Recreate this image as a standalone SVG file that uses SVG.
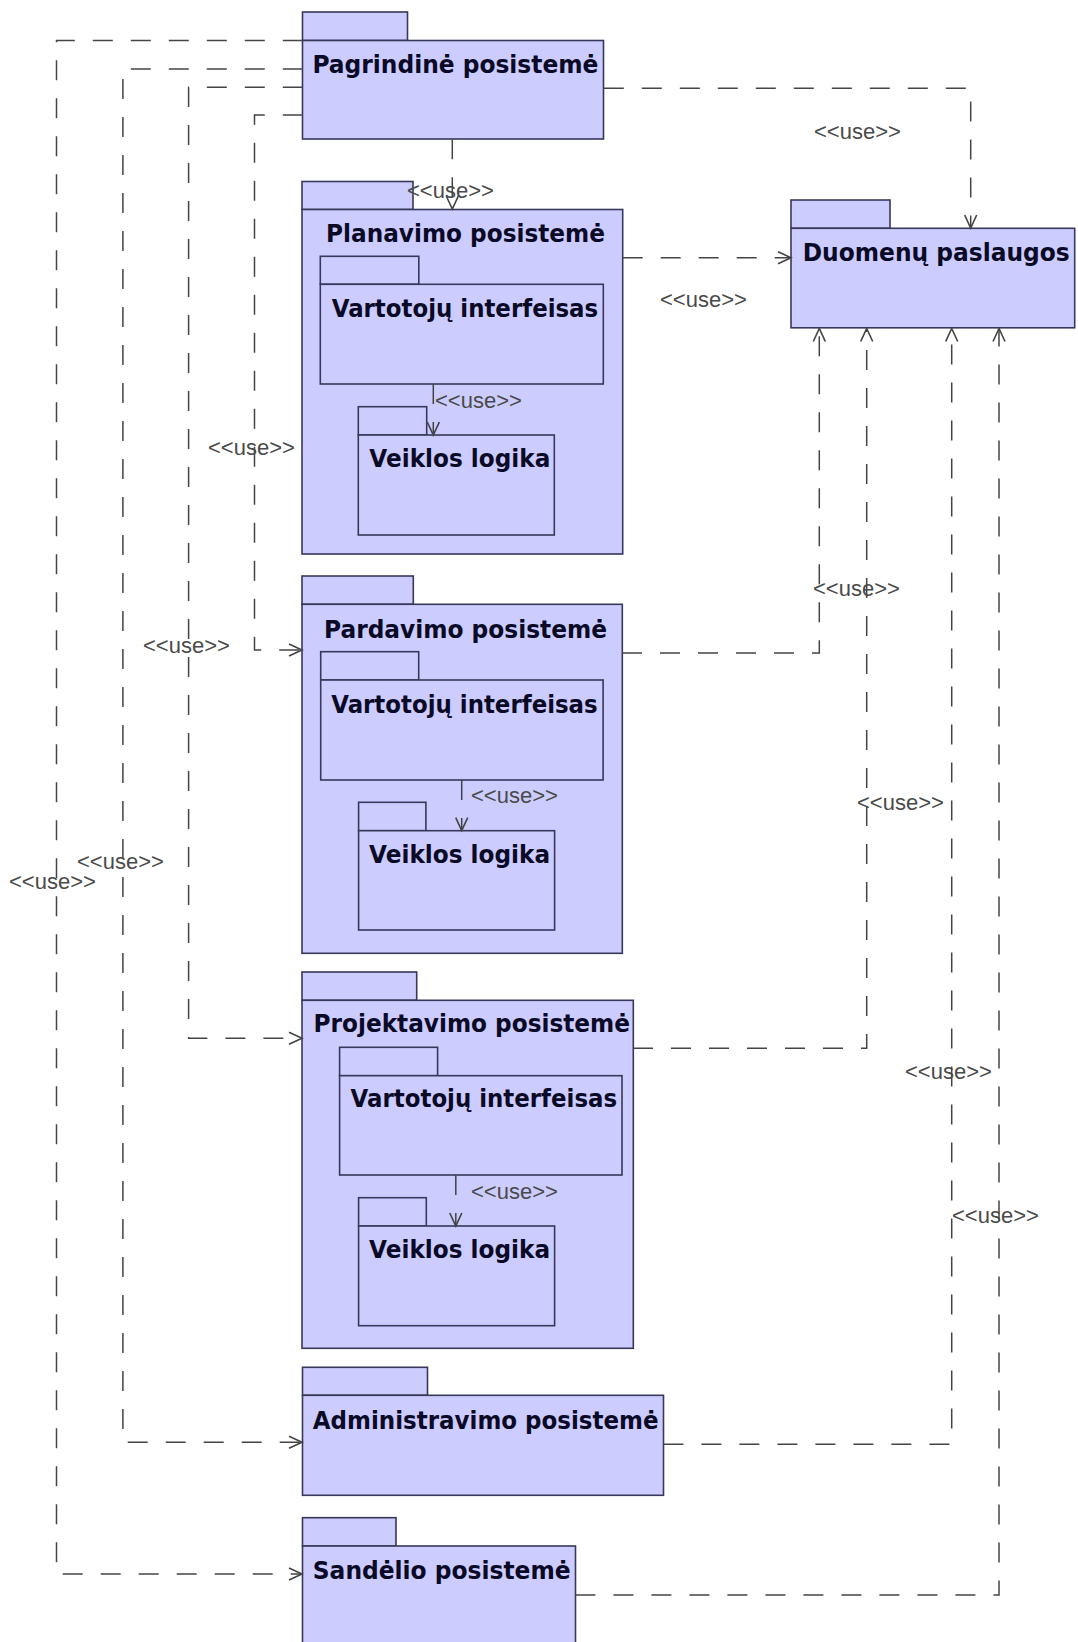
<svg xmlns="http://www.w3.org/2000/svg" width="1078" height="1642" viewBox="0 0 1078 1642">
  <defs>
    <style>
      .pkg { fill: #ccccff; stroke: #38385a; stroke-width: 1.6; }
      .title { font-family: "DejaVu Sans", "Noto Sans", sans-serif; font-weight: bold; font-size: 24px; fill: #0a0a26; }
      .dep { fill: none; stroke: #444; stroke-width: 1.5; stroke-dasharray: 20 18; }
      .lbl { font-family: "Liberation Sans", Arial, sans-serif; font-size: 22px; fill: #4a4a4a; }
    </style>
    <marker id="open" markerUnits="userSpaceOnUse" markerWidth="16" markerHeight="14" refX="14" refY="7" orient="auto">
      <path d="M1,1 L14,7 L1,13" fill="none" stroke="#444" stroke-width="1.6" stroke-dasharray="none"/>
    </marker>
  </defs>
  <rect width="1078" height="1642" fill="#ffffff"/>

  <!-- packages -->
  <g id="pagrindine">
    <rect class="pkg" x="302.5" y="12" width="105" height="28.5"/>
    <rect class="pkg" x="302.5" y="40.5" width="301" height="98.5"/>
    <text class="title" x="312.4" y="72.5" textLength="286" lengthAdjust="spacingAndGlyphs">Pagrindinė posistemė</text>
  </g>

  <g id="duomenu">
    <rect class="pkg" x="791" y="200" width="99" height="28.3"/>
    <rect class="pkg" x="791" y="228.3" width="283.7" height="99.5"/>
    <text class="title" x="802.7" y="261" textLength="267" lengthAdjust="spacingAndGlyphs">Duomenų paslaugos</text>
  </g>

  <g id="planavimo">
    <rect class="pkg" x="302" y="181.5" width="111" height="28"/>
    <rect class="pkg" x="302" y="209.5" width="320.7" height="344.5"/>
    <text class="title" x="326" y="241.7" textLength="279" lengthAdjust="spacingAndGlyphs">Planavimo posistemė</text>
    <g id="planavimo-vi">
      <rect class="pkg" x="320.3" y="256.3" width="98.5" height="28"/>
      <rect class="pkg" x="320.3" y="284.3" width="283" height="99.7"/>
      <text class="title" x="331.7" y="316.7" textLength="266.5" lengthAdjust="spacingAndGlyphs">Vartotojų interfeisas</text>
    </g>
    <g id="planavimo-vl">
      <rect class="pkg" x="358.3" y="406.7" width="68.4" height="28.3"/>
      <rect class="pkg" x="358.3" y="435" width="196" height="100"/>
      <text class="title" x="369.3" y="466.7" textLength="181" lengthAdjust="spacingAndGlyphs">Veiklos logika</text>
    </g>
  </g>

  <g id="pardavimo">
    <rect class="pkg" x="302" y="576" width="111.3" height="28.3"/>
    <rect class="pkg" x="302" y="604.3" width="320.3" height="349"/>
    <text class="title" x="324" y="637.5" textLength="283" lengthAdjust="spacingAndGlyphs">Pardavimo posistemė</text>
    <g id="pardavimo-vi">
      <rect class="pkg" x="320.7" y="651.7" width="98" height="28.3"/>
      <rect class="pkg" x="320.7" y="680" width="282.4" height="100"/>
      <text class="title" x="331.2" y="712.5" textLength="266.5" lengthAdjust="spacingAndGlyphs">Vartotojų interfeisas</text>
    </g>
    <g id="pardavimo-vl">
      <rect class="pkg" x="358.6" y="802.3" width="67.3" height="28.4"/>
      <rect class="pkg" x="358.6" y="830.7" width="196" height="99.3"/>
      <text class="title" x="369.1" y="862.7" textLength="181" lengthAdjust="spacingAndGlyphs">Veiklos logika</text>
    </g>
  </g>

  <g id="projektavimo">
    <rect class="pkg" x="302" y="972" width="114.7" height="28.3"/>
    <rect class="pkg" x="302" y="1000.3" width="331.3" height="348"/>
    <text class="title" x="313.6" y="1032.3" textLength="316.4" lengthAdjust="spacingAndGlyphs">Projektavimo posistemė</text>
    <g id="projektavimo-vi">
      <rect class="pkg" x="339.6" y="1047.3" width="98" height="28.4"/>
      <rect class="pkg" x="339.6" y="1075.7" width="282.4" height="99.3"/>
      <text class="title" x="350.6" y="1107.3" textLength="266.5" lengthAdjust="spacingAndGlyphs">Vartotojų interfeisas</text>
    </g>
    <g id="projektavimo-vl">
      <rect class="pkg" x="358.6" y="1197.7" width="67.7" height="28.3"/>
      <rect class="pkg" x="358.6" y="1226" width="196" height="99.7"/>
      <text class="title" x="369.1" y="1258" textLength="181" lengthAdjust="spacingAndGlyphs">Veiklos logika</text>
    </g>
  </g>

  <g id="administravimo">
    <rect class="pkg" x="302.5" y="1367.3" width="125" height="28"/>
    <rect class="pkg" x="302.5" y="1395.3" width="361" height="100"/>
    <text class="title" x="312.8" y="1428.7" textLength="345.8" lengthAdjust="spacingAndGlyphs">Administravimo posistemė</text>
  </g>

  <g id="sandelio">
    <rect class="pkg" x="302.5" y="1517.7" width="93.5" height="28.3"/>
    <rect class="pkg" x="302.5" y="1546" width="273" height="110"/>
    <text class="title" x="312.8" y="1578.5" textLength="257.8" lengthAdjust="spacingAndGlyphs">Sandėlio posistemė</text>
  </g>

  <!-- dependency connectors, drawn over the packages -->
  <g id="connectors">
    <path class="dep" marker-end="url(#open)" d="M302.8,40.5 H56.5 V1574 H302"/>
    <path class="dep" marker-end="url(#open)" d="M302.8,69 H122.9 V1442.3 H302"/>
    <path class="dep" marker-end="url(#open)" d="M302.8,87.3 H188.6 V1038.3 H302"/>
    <path class="dep" marker-end="url(#open)" d="M302.8,115 H254.5 V650 H302"/>
    <path class="dep" marker-end="url(#open)" d="M452.3,139.3 V209"/>
    <path class="dep" marker-end="url(#open)" d="M603.8,88.3 H970.7 V228"/>
    <path class="dep" marker-end="url(#open)" d="M622.7,257.7 H791"/>
    <path class="dep" marker-end="url(#open)" d="M622,653 H819.3 V328.5"/>
    <path class="dep" marker-end="url(#open)" d="M633,1048.3 H866.7 V328.5"/>
    <path class="dep" marker-end="url(#open)" d="M663.4,1444.3 H951.7 V328.5"/>
    <path class="dep" marker-end="url(#open)" d="M575.4,1595 H999 V328.5"/>
    <path class="dep" marker-end="url(#open)" d="M433.3,384 V435"/>
    <path class="dep" marker-end="url(#open)" d="M461.7,780 V830.7"/>
    <path class="dep" marker-end="url(#open)" d="M455.8,1175 V1226"/>

    <text class="lbl" x="407" y="198">&lt;&lt;use&gt;&gt;</text>
    <text class="lbl" x="660" y="307">&lt;&lt;use&gt;&gt;</text>
    <text class="lbl" x="814" y="139">&lt;&lt;use&gt;&gt;</text>
    <text class="lbl" x="435" y="408">&lt;&lt;use&gt;&gt;</text>
    <text class="lbl" x="208" y="455">&lt;&lt;use&gt;&gt;</text>
    <text class="lbl" x="143" y="653">&lt;&lt;use&gt;&gt;</text>
    <text class="lbl" x="813" y="596">&lt;&lt;use&gt;&gt;</text>
    <text class="lbl" x="471" y="803">&lt;&lt;use&gt;&gt;</text>
    <text class="lbl" x="77" y="869">&lt;&lt;use&gt;&gt;</text>
    <text class="lbl" x="9" y="889">&lt;&lt;use&gt;&gt;</text>
    <text class="lbl" x="857" y="810">&lt;&lt;use&gt;&gt;</text>
    <text class="lbl" x="471" y="1199">&lt;&lt;use&gt;&gt;</text>
    <text class="lbl" x="905" y="1079">&lt;&lt;use&gt;&gt;</text>
    <text class="lbl" x="952" y="1223">&lt;&lt;use&gt;&gt;</text>
  </g>
</svg>
